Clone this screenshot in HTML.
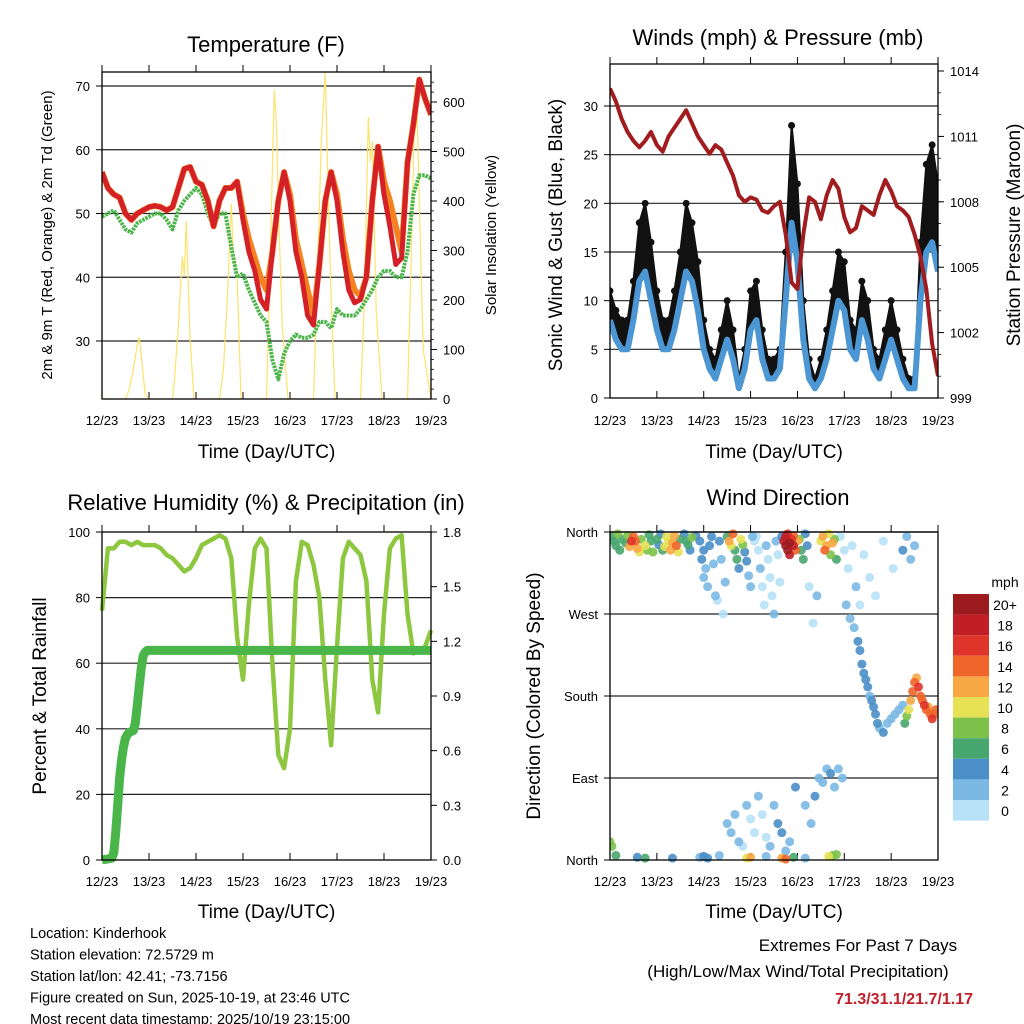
<!DOCTYPE html>
<html><head><meta charset="utf-8"><style>
body{margin:0;background:#fff;}
svg{display:block;font-family:"Liberation Sans",sans-serif;}
</style></head><body>
<svg id="c" width="1024" height="1024" viewBox="0 0 1024 1024"></svg>
<script>
// ---- Data (3-hourly, hours from 12/23 00 UTC) ----
const tempRed=[56.5,54,53,52.5,50,49,50,50.5,51,51.2,51,50.5,51,54,57,57.3,55,54.5,52,48,52,54,54,55,49,44,41,36.5,35,44,52,56.5,52,44,40,34,32.5,42,52,56.5,52,44,38,36,36.5,40,52,60.5,53,48,42,43,58,64,71,68,65.5];
const tempOrange=[56.5,54,53,52.5,50,49,50,50.5,51,51.2,51,50.5,51,54,57,57.3,55,54.5,52,48,52,54,54,55,50,46,43,40,38,44,52,56.5,53,46,42,38,34,42,52,56.5,53,46,41,38,37,40,52,60.5,55,52,48,44,58,64,71,68,65.5];
const tempDew=[49.5,50,50.5,49,47.5,47,48.5,49,49.5,50,50,49,47.5,50.5,52,53,54,53,50,48,50,50,44.7,40,40.6,38,36,34,33,27,24,28,30,31,30.5,30.5,31,33,33,32,35,34,34,34,35,36.5,38,40,41,41,40,40,44,53,56,56,55.5];
const solarHours=[0,12,14,16,18,19,20,22,24,36,37,39,41,42,43,45,47,60,62,64,66,67,69,71,84,86,88,89,90,92,95,108,110,112,114,115,117,119,132,134,136,137,138,140,143,156,158,160,161,162,164,166,168];
const solarVals=[0,0,20,60,110,125,90,10,0,0,40,150,287,250,360,120,0,0,60,200,395,300,250,0,0,300,624,560,400,150,0,0,250,520,660,500,200,0,0,200,570,480,520,180,0,0,300,635,560,400,100,50,0];
const windSpd=[8,6,5,5,8,12,13,10,7,5,5,7,10,13,12,9,5,3,2,4,6,4,1,3,7,8,4,2,2,3,10,18,14,6,2,1,2,4,7,10,9,5,4,8,6,3,2,4,6,4,2,1,1,10,15,16,13];
const windGust=[11,9,8,8,12,18,20,16,11,8,8,11,15,20,18,14,8,5,4,7,10,7,2,5,11,12,7,4,4,5,15,28,22,10,4,2,4,7,11,15,14,8,7,12,10,5,4,7,10,7,4,2,2,16,24,26,22];
const pressure=[1013.2,1012.6,1011.8,1011.2,1010.8,1010.5,1010.8,1011.2,1010.6,1010.3,1011,1011.4,1011.8,1012.2,1011.6,1011,1010.6,1010.2,1010.6,1010.4,1009.8,1009.2,1008.3,1008,1008.2,1008.1,1007.6,1007.5,1007.8,1008,1006.5,1004.3,1004,1006.5,1008.2,1008,1007.2,1008.3,1009,1008.6,1007.3,1006.6,1006.8,1007.8,1007.6,1007.4,1008.3,1009,1008.5,1007.8,1007.6,1007.3,1006.5,1005.5,1004,1001.5,1000];
const rh=[76,95,95,97,97,96,97,96,96,96,95,93,92,90,88,89,92,96,97,98,99,98,92,68,55,78,95,98,95,60,32,28,40,85,97,96,90,80,55,35,65,92,97,95,93,85,55,45,75,95,98,99,75,63,64,65,70];
const precipHours=[0,5,6,7,8,9,10,11,12,13,14,16,17,18,19,20,21,22,23,168];
const precipVals=[0,0.01,0.04,0.15,0.3,0.45,0.55,0.62,0.67,0.69,0.7,0.71,0.75,0.85,0.95,1.05,1.12,1.14,1.15,1.15];
const dirHours=[1,2,3,4,5,6,8,9,10,11,12,13,14,15,16,18,19,20,21,22,24,25,26,27,28,29,30,31,32,33,34,35,36,38,39,40,41,42,44,
46,47,48,48,49,50,51,52,53,54,55,56,57,58,59,60,
61,62,63,64,65,66,67,68,69,70,71,72,73,74,
75,76,77,78,79,80,81,82,83,84,85,86,87,88,
89,90,90,91,91,92,92,93,94,94,95,96,
97,98,99,100,101,102,104,106,
108,109,110,111,112,113,114,115,116,
118,120,122,124,126,128,130,133,136,140,145,150,152,154,156,
121,123,125,127,128,129,130,131,132,133,134,135,136,137,138,140,142,144,146,148,150,
151,152,153,154,155,156,157,158,159,160,161,162,163,164,165,166,167,
60,62,64,66,68,70,72,74,76,78,80,82,84,86,88,90,92,95,100,103,105,107,109,111,113,115,117,119,
0,1,3,14,18,32,46,48,50,56,70,72,80,88,90,94,100,112,114,116];
const dirDeg=[355,350,345,358,340,352,348,356,344,350,355,350,342,338,352,345,340,357,350,338,352,346,358,340,344,355,350,340,348,356,345,338,352,358,350,346,340,354,356,
350,330,340,310,320,300,345,355,325,290,285,350,330,270,305,355,
350,345,358,340,330,320,352,346,338,328,312,300,355,350,
355,340,320,300,280,345,330,310,290,270,350,335,305,355,
350,345,355,340,358,348,335,352,345,356,340,350,
352,340,330,358,345,300,260,290,
350,355,340,345,358,335,348,352,330,
355,340,320,345,300,280,335,310,290,350,320,340,355,330,345,
280,265,255,240,230,215,205,198,190,180,175,168,160,150,145,140,150,155,160,165,170,
150,158,165,175,185,195,200,190,180,175,170,165,168,160,155,160,165,
40,30,50,20,15,60,45,30,70,50,25,15,60,40,30,10,20,80,60,40,70,90,85,100,95,80,100,90,
20,15,5,3,2,2,3,4,2,5,2,3,4,2,1,3,2,4,5,6];
const dirSpd=[6,7,6,8,6,7,6,8,12,16,15,14,12,10,9,10,8,6,7,8,6,4,5,7,10,10,11,12,13,12,14,11,6,4,6,7,5,8,4,
4,4,5,2,3,2,4,5,3,2,1,4,3,1,2,6,
12,10,14,7,6,5,11,8,4,4,3,3,2,1,
1,1,2,1,0,2,1,0,1,2,3,1,0,4,
18,20,19,21,17,20,19,16,18,15,14,12,
8,7,6,5,4,1,1,2,
10,12,14,13,11,9,12,8,6,
1,0,1,0,2,1,0,1,0,1,0,4,2,3,3,
2,3,3,4,4,4,5,4,4,3,4,4,5,4,3,4,3,2,2,3,2,
7,8,10,12,14,15,13,16,15,14,16,15,13,14,16,15,14,
2,3,2,2,1,3,0,1,2,1,0,2,3,4,4,2,3,4,3,2,4,3,2,3,4,3,2,3,
8,9,6,4,6,4,3,4,4,3,10,12,3,12,14,6,2,10,8,9];
const dayLabels=["12/23","13/23","14/23","15/23","16/23","17/23","18/23","19/23"];
const cbLabels=["20+","18","16","14","12","10","8","6","4","2","0"];
const cbColors=["#9b1b1f","#c01f26","#df3429","#f06529","#f7a744","#e6e155","#7cc24a","#48a66f","#4a8fc8","#7bb8e3","#b7e1f7"];

const NS="http://www.w3.org/2000/svg";
const svg=document.getElementById("c");
function mk(tag,attrs,parent,name,inter){const e=document.createElementNS(NS,tag);for(const k in attrs)e.setAttribute(k,attrs[k]);


(parent||svg).appendChild(e);return e;}
function txt(x,y,s,size,anchor,parent,name,extra){const t=mk("text",Object.assign({x:x,y:y,"font-size":size,"text-anchor":anchor||"middle",fill:"#000"},extra||{}),parent,name);t.textContent=s;return t;}
function lin(x0,x1,d0,d1){return v=>x0+(v-d0)/(d1-d0)*(x1-x0);}
function pts(xs,ys,fx,fy){return xs.map((h,i)=>fx(h).toFixed(1)+","+fy(ys[i]).toFixed(1)).join(" ");}
const step3=tempRed.map((_,i)=>i*3);

function frame(L,T,R,B,name,lab,tit){
  const g=mk("g",{},svg,name);
  const fx=lin(L,R,0,7);
  for(let d=0;d<=7;d++){const x=fx(d);
    mk("line",{x1:x,y1:B,x2:x,y2:B-7,stroke:"#000","stroke-width":1},g,"x-tick");
    mk("line",{x1:x,y1:T,x2:x,y2:T-7,stroke:"#000","stroke-width":1},g,"x-tick-top");
    txt(x,B+lab,dayLabels[d],13,"middle",g,"x-tick-label");}
  txt((L+R)/2,B+tit,"Time (Day/UTC)",19,"middle",g,"x-axis-title");
  return g;
}
function box(L,T,R,B,g){mk("rect",{x:L,y:T,width:R-L,height:B-T,fill:"none",stroke:"#000","stroke-width":1.3},g,"plot-frame");}
function grid(L,R,ys,g){ys.forEach(y=>mk("line",{x1:L,y1:y,x2:R,y2:y,stroke:"#222","stroke-width":1.2},g,"grid-line"));}

// ===== Panel 1: Temperature =====
(function(){
  const L=102,T=72,R=431,B=399;
  const g=frame(L,T,R,B,"temperature-panel",26,59);
  const fx=lin(L,R,0,168), fy=lin(341,86,30,70), fs=lin(399,102,0,600);
  txt(266,52,"Temperature (F)",22,"middle",g,"temperature-title");
  grid(L,R,[30,40,50,60,70].map(fy),g);
  [30,40,50,60,70].forEach(v=>{mk("line",{x1:L,y1:fy(v),x2:L-6,y2:fy(v),stroke:"#000"},g,"y-tick");txt(L-12,fy(v)+5,String(v),13,"end",g,"y-tick-label");});
  [0,100,200,300,400,500,600].forEach(v=>{mk("line",{x1:R,y1:fs(v),x2:R+6,y2:fs(v),stroke:"#000"},g,"y2-tick");txt(R+12,fs(v)+5,String(v),13,"start",g,"y2-tick-label");});
  for(let v=0;v<=640;v+=20){mk("line",{x1:R,y1:fs(v),x2:R+3,y2:fs(v),stroke:"#000","stroke-width":0.8},g,"y2-minor-tick");}
  txt(0,0,"2m & 9m T (Red, Orange) & 2m Td (Green)",15,"middle",g,"y-axis-title",{transform:"translate(52,235) rotate(-90)"});
  txt(0,0,"Solar Insolation (Yellow)",15,"middle",g,"y2-axis-title",{transform:"translate(496,235) rotate(-90)"});
  const clip=mk("clipPath",{id:"c1"},g,"clip");mk("rect",{x:L,y:T,width:R-L,height:B-T},clip,"clip-rect");
  const p=mk("g",{"clip-path":"url(#c1)"},g,"temperature-series");
  mk("polyline",{points:pts(solarHours,solarVals,fx,fs),fill:"none",stroke:"#fde36a","stroke-width":1.2},p,"solar-insolation-line");
  mk("polyline",{points:pts(step3,tempDew,fx,fy),fill:"none",stroke:"#4ab548","stroke-width":4,"stroke-dasharray":"2.5 1","stroke-linejoin":"round"},p,"dewpoint-line");
  mk("polyline",{points:pts(step3,tempOrange,fx,fy),fill:"none",stroke:"#f58220","stroke-width":6,"stroke-linejoin":"round"},p,"temp-9m-line");
  mk("polyline",{points:pts(step3,tempRed,fx,fy),fill:"none",stroke:"#d42027","stroke-width":5,"stroke-linejoin":"round"},p,"temp-2m-line");
  box(L,T,R,B,g);
})();

// ===== Panel 2: Winds & Pressure =====
(function(){
  const L=610,T=64,R=938,B=398;
  const g=frame(L,T,R,B,"winds-panel",27,60);
  const fx=lin(L,R,0,168), fy=lin(398,106,0,30), fp=lin(398,71,999,1014);
  txt(778,45,"Winds (mph) & Pressure (mb)",22,"middle",g,"winds-title");
  grid(L,R,[5,10,15,20,25,30].map(fy),g);
  [0,5,10,15,20,25,30].forEach(v=>{mk("line",{x1:L,y1:fy(v),x2:L-6,y2:fy(v),stroke:"#000"},g,"y-tick");txt(L-12,fy(v)+5,String(v),13,"end",g,"y-tick-label");});
  [999,1002,1005,1008,1011,1014].forEach(v=>{mk("line",{x1:R,y1:fp(v),x2:R+6,y2:fp(v),stroke:"#000"},g,"y2-tick");txt(R+12,fp(v)+5,String(v),13,"start",g,"y2-tick-label");});
  for(let v=999;v<=1014;v++){mk("line",{x1:R,y1:fp(v),x2:R+3,y2:fp(v),stroke:"#000","stroke-width":0.8},g,"y2-minor-tick");}
  txt(0,0,"Sonic Wind & Gust (Blue, Black)",19,"middle",g,"y-axis-title",{transform:"translate(562,235) rotate(-90)"});
  txt(0,0,"Station Pressure (Maroon)",19,"middle",g,"y2-axis-title",{transform:"translate(1020,235) rotate(-90)"});
  const clip=mk("clipPath",{id:"c2"},g,"clip");mk("rect",{x:L,y:T,width:R-L,height:B-T},clip,"clip-rect");
  const p=mk("g",{"clip-path":"url(#c2)"},g,"wind-series");
  const up=step3.map((h,i)=>fx(h).toFixed(1)+","+fy(windGust[i]).toFixed(1));
  const dn=step3.map((h,i)=>fx(h).toFixed(1)+","+fy(windSpd[i]).toFixed(1)).reverse();
  mk("polygon",{points:up.concat(dn).join(" "),fill:"#111",stroke:"#111","stroke-width":2,"stroke-linejoin":"round"},p,"gust-band");
  step3.forEach((h,i)=>{mk("circle",{cx:fx(h),cy:fy(windGust[i]),r:3.5,fill:"#111"},p,"gust-point");});
  mk("polyline",{points:pts(step3,windSpd,fx,fy),fill:"none",stroke:"#4b96d3","stroke-width":6,"stroke-linejoin":"round"},p,"wind-speed-line");
  mk("polyline",{points:pts(step3,pressure,fx,fp),fill:"none",stroke:"#a01c1f","stroke-width":4,"stroke-linejoin":"round"},p,"pressure-line");
  box(L,T,R,B,g);
})();

// ===== Panel 3: RH & Precip =====
(function(){
  const L=102,T=532,R=431,B=860;
  const g=frame(L,T,R,B,"humidity-panel",26,58);
  const fx=lin(L,R,0,168), fy=lin(860,532,0,100), fp=lin(860,532,0,1.8);
  txt(266,510,"Relative Humidity (%) & Precipitation (in)",22,"middle",g,"humidity-title");
  grid(L,R,[20,40,60,80].map(fy),g);
  [0,20,40,60,80,100].forEach(v=>{mk("line",{x1:L,y1:fy(v),x2:L-6,y2:fy(v),stroke:"#000"},g,"y-tick");txt(L-12,fy(v)+5,String(v),13,"end",g,"y-tick-label");});
  ["0.0","0.3","0.6","0.9","1.2","1.5","1.8"].forEach(s=>{const v=parseFloat(s);mk("line",{x1:R,y1:fp(v),x2:R+6,y2:fp(v),stroke:"#000"},g,"y2-tick");txt(R+12,fp(v)+5,s,13,"start",g,"y2-tick-label");});
  txt(0,0,"Percent & Total Rainfall",19,"middle",g,"y-axis-title",{transform:"translate(46,696) rotate(-90)"});
  const clip=mk("clipPath",{id:"c3"},g,"clip");mk("rect",{x:L-4,y:T,width:R-L+8,height:B-T+4},clip,"clip-rect");
  const p=mk("g",{"clip-path":"url(#c3)"},g,"humidity-series");
  mk("polyline",{points:pts(step3,rh,fx,fy),fill:"none",stroke:"#8dc63f","stroke-width":4.5,"stroke-linejoin":"round"},p,"rh-line");
  mk("polyline",{points:pts(precipHours,precipVals,fx,fp),fill:"none",stroke:"#4ab548","stroke-width":9,"stroke-linejoin":"round"},p,"precip-line");
  box(L,T,R,B,g);
})();

// ===== Panel 4: Wind direction =====
(function(){
  const L=610,T=532,R=938,B=860;
  const g=frame(L,T,R,B,"direction-panel",26,58);
  const fx=lin(L,R,0,168), fy=lin(860,532,0,360);
  txt(778,505,"Wind Direction",22,"middle",g,"direction-title");
  grid(L,R,[90,180,270,360].map(fy),g);
  [["North",0],["East",90],["South",180],["West",270],["North",360]].forEach(a=>{mk("line",{x1:L,y1:fy(a[1]),x2:L-6,y2:fy(a[1]),stroke:"#000"},g,"y-tick");txt(L-12,fy(a[1])+5,a[0],13,"end",g,"y-tick-label");});
  txt(0,0,"Direction (Colored By Speed)",19,"middle",g,"y-axis-title",{transform:"translate(540,696) rotate(-90)"});
  const clip=mk("clipPath",{id:"c4"},g,"clip");mk("rect",{x:L,y:T-4,width:R-L,height:B-T+8},clip,"clip-rect");
  const p=mk("g",{"clip-path":"url(#c4)"},g,"direction-points");
  function col(s){const idx=Math.min(10,Math.floor(s/2));return cbColors[10-idx];}
  const order=dirHours.map((_,i)=>i).sort((a,b)=>dirSpd[a]-dirSpd[b]);
  order.forEach(i=>{mk("circle",{cx:fx(dirHours[i]),cy:fy(dirDeg[i]),r:4.5,fill:col(dirSpd[i]),"fill-opacity":0.9},p,"direction-point");});
  box(L,T,R,B,g);
  const cb=mk("g",{},svg,"speed-colorbar");
  txt(1005,587,"mph",14,"middle",cb,"colorbar-title");
  cbColors.forEach((c,i)=>{const y=594+i*20.6;mk("rect",{x:953,y:y,width:36,height:20.6,fill:c},cb,"colorbar-swatch");txt(1005,y+16,cbLabels[i],14,"middle",cb,"colorbar-label");});
})();

// ===== Footer text =====
const ft=mk("g",{},svg,"station-info");
["Location: Kinderhook","Station elevation: 72.5729 m","Station lat/lon: 42.41; -73.7156","Figure created on Sun, 2025-10-19, at 23:46 UTC","Most recent data timestamp: 2025/10/19 23:15:00"].forEach((s,i)=>txt(30,938+i*21.5,s,14.5,"start",ft,"info-line"));
const ex=mk("g",{},svg,"extremes-summary");
txt(858,951,"Extremes For Past 7 Days",17,"middle",ex,"extremes-title");
txt(798,977,"(High/Low/Max Wind/Total Precipitation)",17,"middle",ex,"extremes-subtitle");
txt(973,1004,"71.3/31.1/21.7/1.17",16,"end",ex,"extremes-values",{fill:"#c0202a","font-weight":"bold"});
</script>
</body></html>
